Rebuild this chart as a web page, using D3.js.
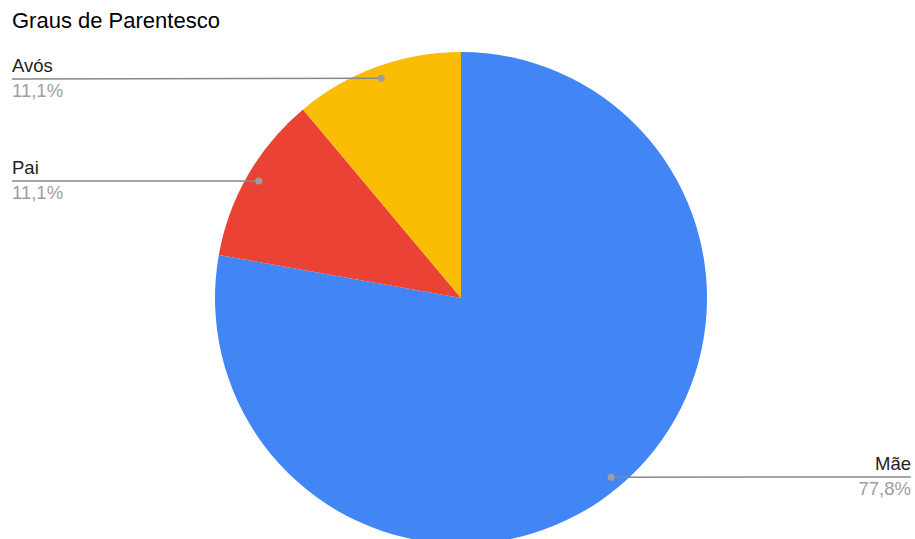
<!DOCTYPE html>
<html><head><meta charset="utf-8">
<script src="https://cdn.jsdelivr.net/npm/d3@7"></script>
<style>body{margin:0;background:#fff;}svg{display:block;font-family:Arial,"Liberation Sans",sans-serif;}</style>
</head><body><svg id="c" width="915" height="539"></svg>
<script>
const categories = ["Mãe", "Pai", "Avós"];
const values = [77.8, 11.1, 11.1];
const pctLabels = ["77,8%", "11,1%", "11,1%"];
const colors = ["#4285F4", "#EA4335", "#FBBC04"];

const svg = d3.select("#c");
const W = 915, H = 539;
const cx = 461, cy = 298, r = 246;

svg.append("text").attr("x", 12).attr("y", 28).attr("font-size", 22).attr("fill", "#000").text("Graus de Parentesco");

const data = categories.map((c, i) => ({cat: c, v: values[i], pct: pctLabels[i], color: colors[i]}));
const pie = d3.pie().value(d => d.v).sort(null);
const arcs = pie(data);
const arc = d3.arc().innerRadius(0).outerRadius(r);
const g = svg.append("g").attr("transform", `translate(${cx},${cy})`);
g.selectAll("path").data(arcs).join("path").attr("d", arc).attr("fill", d => d.data.color);

const labelY = {"Avós": 79, "Pai": 181, "Mãe": 477};
arcs.forEach(a => {
  const mid = (a.startAngle + a.endAngle) / 2;
  const dx = Math.sin(mid) * r * 0.95, dy = -Math.cos(mid) * r * 0.95;
  const px = cx + dx, py = cy + dy;
  const right = dx > 0;
  const ly = labelY[a.data.cat];
  const ex = right ? 911 : 12;
  svg.append("line").attr("x1", px).attr("y1", py).attr("x2", ex).attr("y2", ly)
    .attr("stroke", "#888").attr("stroke-width", 1.5);
  svg.append("circle").attr("cx", px).attr("cy", py).attr("r", 3.5).attr("fill", "#9e9e9e");
  svg.append("text").attr("x", ex).attr("y", ly - 7).attr("font-size", 18.5)
    .attr("text-anchor", right ? "end" : "start").attr("fill", "#222").text(a.data.cat);
  svg.append("text").attr("x", ex).attr("y", ly + 18).attr("font-size", 18.5)
    .attr("text-anchor", right ? "end" : "start").attr("fill", "#9e9e9e").text(a.data.pct);
});
</script></body></html>
